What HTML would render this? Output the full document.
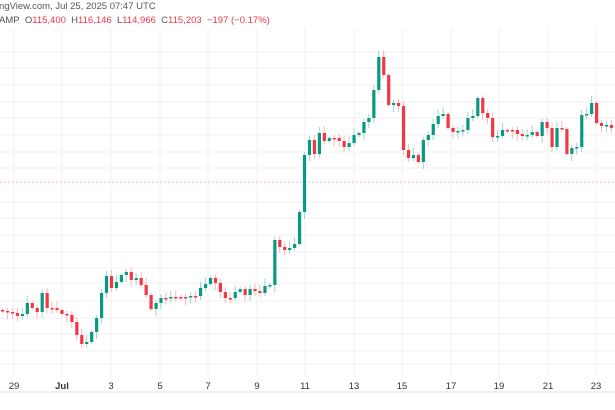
<!DOCTYPE html>
<html><head><meta charset="utf-8"><style>
html,body{margin:0;padding:0;background:#fff;width:615px;height:410px;overflow:hidden;font-family:"Liberation Sans",sans-serif}
.t{position:absolute;font-size:9.5px;color:#555;white-space:nowrap}
.r{color:#f23645}
</style></head><body>
<svg id="s" width="615" height="410" style="position:absolute;left:0;top:0" xmlns="http://www.w3.org/2000/svg"></svg>
<div class="t" style="left:-1px;top:1px">ngView.com, Jul 25, 2025 07:47 UTC</div>
<div class="t" style="left:-1px;top:15px">AMP&nbsp; O<span class="r">115,400</span>&nbsp; H<span class="r">116,146</span>&nbsp; L<span class="r">114,966</span>&nbsp; C<span class="r">115,203</span>&nbsp; <span class="r">−197 (−0.17%)</span></div>
<script>
(function(){
var s=document.getElementById('s'),NS='http://www.w3.org/2000/svg';
function el(n,a,txt){var e=document.createElementNS(NS,n);for(var k in a)e.setAttribute(k,String(a[k]));if(txt)e.textContent=txt;s.appendChild(e);return e;}
var ys=[52,68,85,102,118,135,152,168,202,218,235,252,268,283,301,318,334,351,364];
ys.forEach(function(y){el('line',{x1:0,x2:615,y1:y,y2:y,stroke:'#f0f0f0'});});
var xs=[14,62,111,160,208,257,305,354,402,451,499,548,596];
var lb=['29','Jul','3','5','7','9','11','13','15','17','19','21','23'];
xs.forEach(function(x,i){el('line',{x1:x,x2:x,y1:28,y2:376,stroke:'#f0f0f0'});
var a={x:x,y:389,'font-size':9.5,fill:'#333','text-anchor':'middle','font-family':'Liberation Sans,sans-serif'};if(i==1)a['font-weight']='bold';el('text',a,lb[i]);});
el('line',{x1:0,x2:615,y1:182,y2:182,stroke:'#f7b6bb','stroke-dasharray':'2,2'});
el('line',{x1:0,x2:615,y1:392,y2:392,stroke:'#e0e0e0'});
var c=[311,312,313,316,314,303,308,312,293,308,308,310,314,315,322,335,344,342,332,318,293,276,288,282,275,272,280,278,285,295,309,303,298,298,297,297,297,297,296,296,288,284,278,283,292,298,298,292,289,295,289,291,293,286,285,240,247,250,248,244,212,155,140,154,133,141,138,138,141,147,143,135,133,122,118,90,57,75,105,103,106,150,158,155,162,140,135,124,116,114,128,132,131,130,118,116,98,113,118,137,136,130,130,130,134,136,135,132,136,122,128,147,128,129,154,148,147,115,114,103,123,126,125,128];
var prev=310;
for(var i=0;i<c.length;i++){var x=i*4.95+1,o=prev,cl=c[i];var up=cl<o;var col=up?'#089981':'#f23645';
var yt=Math.min(o,cl),yb=Math.max(o,cl);if(yb-yt<1.5){yb=yt+1.5;}
var wt=yt-(2+(i*7)%6),wb=yb+(2+(i*5)%6);
el('line',{x1:x+1.5,x2:x+1.5,y1:wt,y2:wb,stroke:up?'#9fd6cc':'#f9b7bd'});
el('rect',{x:x,y:yt,width:3.2,height:yb-yt,fill:col});prev=cl;}
})();
</script>
</body></html>
